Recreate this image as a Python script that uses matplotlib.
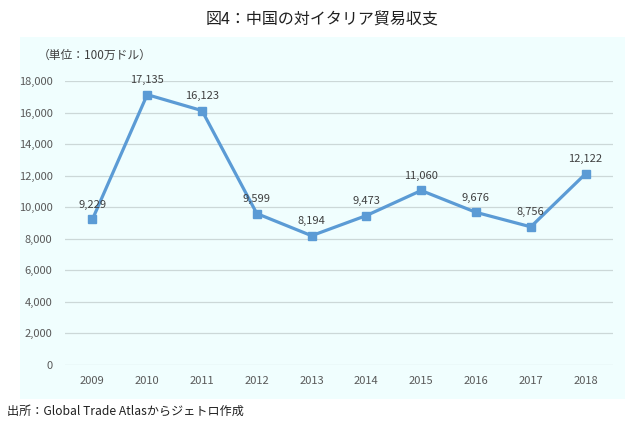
import matplotlib.pyplot as plt
from matplotlib.patches import Rectangle

plt.rcParams['font.family'] = ['Noto Sans CJK JP', 'DejaVu Sans']

years = ['2009', '2010', '2011', '2012', '2013', '2014', '2015', '2016', '2017', '2018']
balance = [9229, 17135, 16123, 9599, 8194, 9473, 11060, 9676, 8756, 12122]
y_ticks = [0, 2000, 4000, 6000, 8000, 10000, 12000, 14000, 16000, 18000]

W, H = 641, 428
fig = plt.figure(figsize=(W / 100, H / 100), dpi=100)

# light background panel behind the chart
fig.patches.append(Rectangle((20 / W, 1 - 399 / H), 605 / W, 362 / H,
                             transform=fig.transFigure, facecolor='#F0FEFE',
                             edgecolor='none', zorder=-1))

ax = fig.add_axes([65 / W, 1 - 365 / H, 548 / W, 284 / H])
ax.set_zorder(1)
ax.set_facecolor('none')

x = list(range(len(years)))
ax.plot(x, balance, color='#5B9BD5', lw=2.3, marker='s', ms=6.2, zorder=3)
for xi, v in zip(x, balance):
    ax.annotate(f'{v:,}', (xi, v), xytext=(0, 7), textcoords='offset points',
                ha='center', va='bottom', fontsize=8, color='#404040')

ax.set_xlim(-0.5, len(years) - 0.5)
ax.set_ylim(0, 18000)
ax.set_yticks(y_ticks)
ax.set_yticklabels([f'{t:,}' for t in y_ticks])
ax.set_xticks(x)
ax.set_xticklabels(years)
ax.tick_params(length=0, labelsize=8, colors='#595959')
ax.tick_params(axis='x', pad=8)
ax.tick_params(axis='y', pad=9)
ax.grid(axis='y', color='#CCD8D8', lw=0.9)
ax.set_axisbelow(True)
for s in ax.spines.values():
    s.set_visible(False)

fig.text(322 / W, 1 - 20 / H, '図4：中国の対イタリア貿易収支', ha='center', va='center',
         fontsize=11.5, color='#202020')
fig.text(38 / W, 1 - 55 / H, '（単位：100万ドル）', ha='left', va='center',
         fontsize=8.5, color='#404040')
fig.text(7 / W, 1 - 411 / H, '出所：Global Trade Atlasからジェトロ作成', ha='left', va='center',
         fontsize=8.7, color='#202020')

fig.savefig('out.png', dpi=100)
